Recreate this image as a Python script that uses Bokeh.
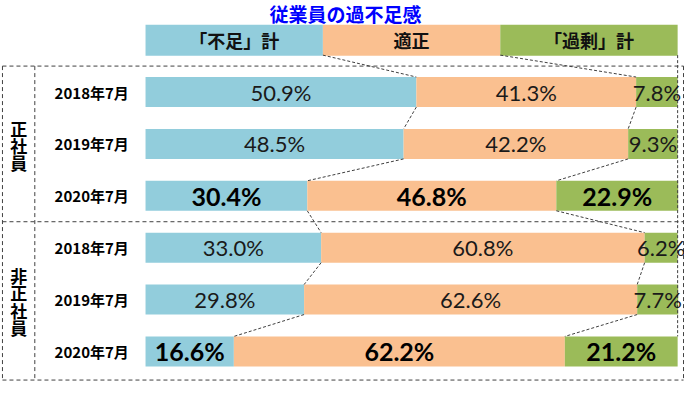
from bokeh.plotting import figure
from bokeh.models import Range1d, ColumnDataSource
from bokeh.core.properties import value
from bokeh.embed import file_html
from bokeh.resources import INLINE

# ---------------- data ----------------
title = "従業員の過不足感"
header_labels = ["「不足」計", "適正", "「過剰」計"]
groups = ["正社員", "非正社員"]
periods = ["2018年7月", "2019年7月", "2020年7月"]
shortage = [50.9, 48.5, 30.4, 33.0, 29.8, 16.6]
adequate = [41.3, 42.2, 46.8, 60.8, 62.6, 62.2]
surplus = [7.8, 9.3, 22.9, 6.2, 7.7, 21.2]
colors = ["#92CDDC", "#FAC090", "#9BBB59"]

# ---------------- layout helpers ----------------
W, H = 684, 381
JP = "Noto Sans CJK JP"
NUM = "Lato"

def px2x(px):   # reference pixel -> percent units
    return (px - 148) / 5.43

def py2k(py):   # reference pixel -> row units (header = 0)
    return (py - 41) / 53.65

BH = 0.578  # bar height in row units

p = figure(width=W, height=H,
           x_range=Range1d(px2x(0), px2x(698)),
           y_range=Range1d(py2k(394), py2k(0)),
           output_backend="svg", toolbar_location=None, min_border=0,
           x_axis_location=None, y_axis_location=None)
p.grid.visible = False
p.outline_line_color = None
p.background_fill_color = "white"

# ---------------- dashed frame ----------------
L, R = px2x(2), px2x(697)
TOP, BOT = 0.5, py2k(392.5)
MID = 3.5
XIN = px2x(35)
frame = dict(line_color="#404040", line_width=1, line_dash="4 3")
p.segment(x0=[L, L, L, L, R, XIN], y0=[TOP, BOT, MID, TOP, TOP, TOP],
          x1=[R, R, R, L, R, XIN], y1=[TOP, BOT, MID, BOT, BOT, BOT], **frame)

# ---------------- header ----------------
hk = [0, 0, 0]
hl = [0, 100 / 3, 200 / 3]
hr = [100 / 3, 200 / 3, 100]
p.hbar(y=hk, left=hl, right=hr, height=BH + 0.02, color=colors, line_color=None)
p.text(x=[(a + b) / 2 for a, b in zip(hl, hr)], y=hk, text=header_labels,
       text_font=value(JP), text_font_style="bold", text_font_size="18px",
       text_align="center", text_baseline="middle", text_color="#111111")

# ---------------- bars ----------------
ks = list(range(1, 7))
r1 = shortage
r2 = [s + a for s, a in zip(shortage, adequate)]
r3 = [b + g for b, g in zip(r2, surplus)]
p.hbar(y=ks, left=[0] * 6, right=r1, height=BH, color=colors[0], line_color=None)
p.hbar(y=ks, left=r1, right=r2, height=BH, color=colors[1], line_color=None)
p.hbar(y=ks, left=r2, right=r3, height=BH, color=colors[2], line_color=None)

# ---------------- connectors ----------------
bounds = [[100 / 3, 200 / 3]] + [[a, b] for a, b in zip(r1, r2)]
cx0, cy0, cx1, cy1 = [], [], [], []
for k in range(6):
    for j in range(2):
        cx0.append(bounds[k][j]); cy0.append(k + BH / 2)
        cx1.append(bounds[k + 1][j]); cy1.append(k + 1 - BH / 2)
cx0.append(100); cy0.append(BH / 2); cx1.append(100); cy1.append(6 - BH / 2)
p.segment(x0=cx0, y0=cy0, x1=cx1, y1=cy1, line_color="#404040",
          line_width=1, line_dash="3 2")

# ---------------- value labels ----------------
norm = dict(x=[], y=[], t=[])
bold = dict(x=[], y=[], t=[])
for i, k in enumerate(ks):
    segs = [(0, r1[i], shortage[i]), (r1[i], r2[i], adequate[i]), (r2[i], r3[i], surplus[i])]
    d = bold if i % 3 == 2 else norm
    for a, b, v in segs:
        d["x"].append((a + b) / 2); d["y"].append(k); d["t"].append(f"{v:.1f}%")
p.text(x="x", y="y", text="t", source=ColumnDataSource(norm),
       text_font=value(NUM), text_font_size="22px", text_align="center",
       text_baseline="middle", text_color="#1a1a1a")
p.text(x="x", y="y", text="t", source=ColumnDataSource(bold),
       text_font=value(NUM), text_font_style="bold", text_font_size="25px",
       text_align="center", text_baseline="middle", text_color="#000000")

# ---------------- row labels ----------------
p.text(x=[px2x(131)] * 6, y=ks, text=periods * 2,
       text_font=value(JP), text_font_style="bold", text_font_size="15px",
       text_align="right", text_baseline="middle", text_color="#000000")

# ---------------- group labels (vertical) ----------------
gx, gy, gt = [], [], []
step = 18 / 53.65
for g, centre in zip(groups, [2.03, 5.04]):
    n = len(g)
    for j, ch in enumerate(g):
        gx.append(px2x(18.5)); gy.append(centre + (j - (n - 1) / 2) * step); gt.append(ch)
p.text(x=gx, y=gy, text=gt, text_font=value(JP), text_font_style="bold",
       text_font_size="17px", text_align="center", text_baseline="middle",
       text_color="#000000")

# ---------------- title ----------------
p.text(x=[px2x(352)], y=[py2k(13.5)], text=[title], text_font=value(JP),
       text_font_style="bold", text_font_size="19px", text_align="center",
       text_baseline="middle", text_color="#0000FF")

open("out.html", "w").write(file_html(p, INLINE))
